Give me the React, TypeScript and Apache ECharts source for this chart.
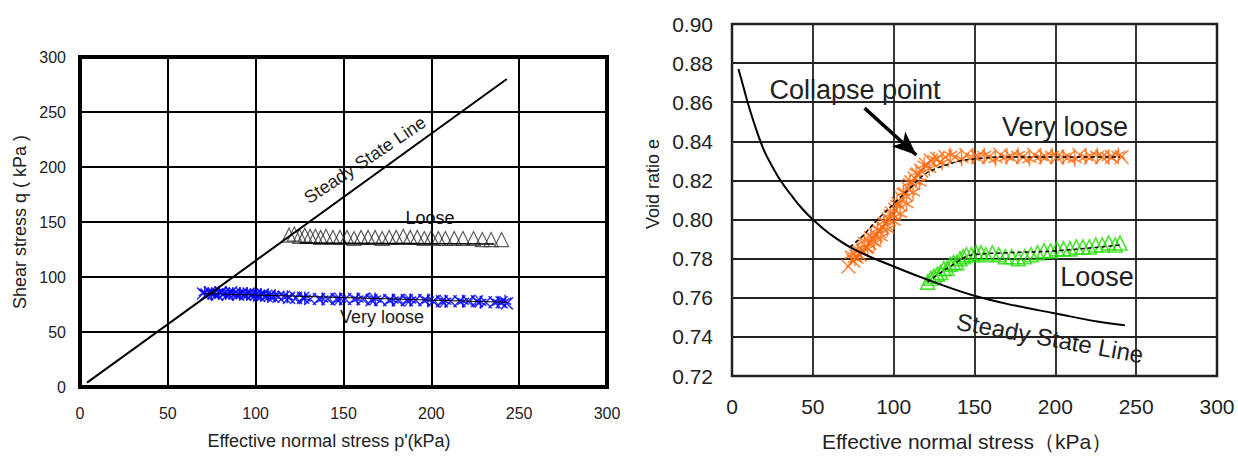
import React, { useEffect, useRef } from "react";
import * as echarts from "echarts";

// ---------- Left chart: q - p' ----------
const leftXTicks = [0, 50, 100, 150, 200, 250, 300];
const leftYTicks = [0, 50, 100, 150, 200, 250, 300];

const leftSslP = [4, 243];
const leftSslQ = [4, 280];

const leftLooseP = [119, 122, 125, 128, 131, 134, 137, 140, 144, 148, 152, 156, 160, 164, 168, 172, 176, 180, 184, 188, 192, 196, 200, 204, 208, 213, 218, 224, 229, 234, 240];
const leftLooseQ = [138, 139, 137, 138, 137, 137, 136, 137, 136, 136, 136, 135, 136, 136, 136, 135, 136, 136, 137, 136, 136, 135, 136, 135, 135, 135, 135, 135, 134, 134, 134];
const leftLooseLineP = [125, 236];
const leftLooseLineQ = [131, 130];

const leftVLCrossP = [70, 72, 74, 76, 78, 80, 82, 84, 86, 88, 90, 92, 94, 96, 98, 100, 102, 104, 106, 108, 110, 113, 116, 119, 123, 127, 131, 136, 141, 146, 151, 156, 161, 166, 171, 176, 181, 186, 191, 196, 201, 206, 211, 216, 221, 226, 231, 236, 240, 243];
const leftVLCrossQ = [85, 84, 86, 85, 84, 86, 85, 84, 86, 85, 84, 85, 84, 85, 84, 84, 83, 84, 83, 83, 82, 82, 82, 81, 81, 81, 80, 80, 80, 80, 80, 80, 80, 79, 79, 79, 79, 79, 79, 79, 78, 78, 78, 78, 78, 78, 77, 77, 77, 76];
const leftVLStarP = [71, 75, 79, 83, 87, 91, 95, 99, 103, 107, 111, 118, 128, 138, 148, 158, 168, 178, 188, 198, 208, 218, 228, 238, 242];
const leftVLStarQ = [86, 85, 86, 85, 85, 85, 85, 84, 84, 83, 83, 82, 81, 80, 80, 80, 80, 79, 79, 79, 78, 78, 77, 77, 78];
const leftVLDiamondP = [125, 145, 165, 185, 205, 225];
const leftVLDiamondQ = [81, 80, 80, 79, 78, 78];
const leftVLLineP = [70, 243];
const leftVLLineQ = [85, 77];

// ---------- Right chart: e - p' ----------
const rightXTicks = [0, 50, 100, 150, 200, 250, 300];
const rightYTicks = [0.72, 0.74, 0.76, 0.78, 0.8, 0.82, 0.84, 0.86, 0.88, 0.9];

const rightSslP = [4, 7, 10, 15, 20, 25, 30, 38, 44, 50, 60, 75, 100, 125, 150, 175, 200, 225, 243];
const rightSslE = [0.877, 0.868, 0.859, 0.846, 0.835, 0.827, 0.82, 0.811, 0.805, 0.8, 0.793, 0.785, 0.776, 0.768, 0.761, 0.756, 0.752, 0.748, 0.746];

const vlCrossP = [72, 75, 77, 79, 81, 83, 85, 87, 89, 91, 93, 95, 97, 99, 101, 103, 105, 107, 109, 111, 113, 115, 117, 120, 123, 127, 132, 138, 145, 152, 159, 166, 173, 180, 187, 194, 201, 208, 215, 222, 229, 235, 241];
const vlCrossE = [0.776, 0.779, 0.781, 0.782, 0.784, 0.786, 0.788, 0.79, 0.792, 0.794, 0.796, 0.798, 0.8, 0.803, 0.805, 0.808, 0.811, 0.813, 0.816, 0.819, 0.821, 0.823, 0.825, 0.828, 0.83, 0.831, 0.832, 0.832, 0.833, 0.832, 0.832, 0.833, 0.832, 0.832, 0.833, 0.832, 0.832, 0.832, 0.833, 0.832, 0.832, 0.832, 0.832];
const vlStarP = [74, 76, 78, 80, 82, 84, 86, 88, 90, 92, 94, 96, 98, 100, 102, 104, 106, 108, 110, 112, 114, 116, 119, 122, 125, 130, 135, 142, 149, 156, 163, 170, 177, 184, 191, 198, 205, 212, 219, 226, 233, 239];
const vlStarE = [0.782, 0.78, 0.785, 0.783, 0.789, 0.785, 0.792, 0.788, 0.795, 0.791, 0.799, 0.795, 0.803, 0.799, 0.808, 0.803, 0.814, 0.808, 0.819, 0.814, 0.824, 0.819, 0.828, 0.826, 0.831, 0.829, 0.833, 0.831, 0.832, 0.833, 0.831, 0.832, 0.833, 0.831, 0.832, 0.833, 0.832, 0.831, 0.832, 0.833, 0.832, 0.833];
const vlTrendP = [73, 80, 90, 100, 110, 119, 126, 133, 141, 150, 170, 200, 240];
const vlTrendE = [0.786, 0.791, 0.8, 0.808, 0.816, 0.823, 0.826, 0.828, 0.83, 0.831, 0.832, 0.832, 0.832];

const looseP = [121, 123, 125, 127, 129, 131, 133, 135, 137, 139, 141, 143, 145, 148, 151, 154, 157, 161, 165, 169, 173, 177, 181, 185, 189, 193, 197, 201, 205, 209, 213, 217, 221, 225, 229, 233, 237, 240];
const looseE = [0.768, 0.77, 0.771, 0.772, 0.773, 0.775, 0.775, 0.777, 0.778, 0.778, 0.78, 0.781, 0.782, 0.782, 0.783, 0.783, 0.782, 0.783, 0.782, 0.781, 0.781, 0.78, 0.781, 0.782, 0.783, 0.784, 0.784, 0.785, 0.785, 0.785, 0.786, 0.786, 0.786, 0.787, 0.787, 0.788, 0.787, 0.788];
const looseTrendP = [121, 135, 150, 170, 200, 240];
const looseTrendE = [0.768, 0.776, 0.782, 0.783, 0.784, 0.787];

const collapseArrowFrom = [82, 0.857];
const collapseArrowTo = [114, 0.833];

const zip = (a: number[], b: number[]) => a.map((v, i) => [v, b[i]]);

const FONT = "'Liberation Sans', Arial, sans-serif";
const TXT = "#222";
const CROSS = "path://M0,0L10,10M10,0L0,10";
const STAR = "path://M5,0L5,10M0,2.5L10,7.5M0,7.5L10,2.5";

export default function App() {
  const ref = useRef<HTMLDivElement>(null);
  useEffect(() => {
    if (!ref.current) return;
    const chart = echarts.init(ref.current, null, { renderer: "svg" });
    const leftAxisCommon = {
      axisLine: { show: true, lineStyle: { color: "#000", width: 4 } },
      axisTick: { show: true, inside: true, length: 4, lineStyle: { color: "#000", width: 2 } },
      splitLine: { show: true, lineStyle: { color: "#000", width: 2 } },
    };
    const rightAxisCommon = {
      axisLine: { show: true, lineStyle: { color: "#222", width: 2 } },
      axisTick: { show: false },
      splitLine: { show: true, lineStyle: { color: "#222", width: 1.8 } },
    };
    const option: any = {
      animation: false,
      backgroundColor: "#fff",
      grid: [
        { left: 80, top: 57, width: 527, height: 330, show: true, borderColor: "#000", borderWidth: 4 },
        { left: 732, top: 24, width: 485, height: 358, show: true, borderColor: "#222", borderWidth: 2.5 },
      ],
      xAxis: [
        {
          gridIndex: 0, type: "value", min: leftXTicks[0], max: leftXTicks[leftXTicks.length - 1], interval: 50,
          ...leftAxisCommon,
          axisLabel: { fontSize: 16, color: TXT, fontFamily: FONT, margin: 18 },
          name: "Effective normal stress p'(kPa)", nameLocation: "middle", nameGap: 45,
          nameTextStyle: { fontSize: 18, color: TXT, fontFamily: FONT, padding: [0, 29, 0, 0] },
        },
        {
          gridIndex: 1, type: "value", min: rightXTicks[0], max: rightXTicks[rightXTicks.length - 1], interval: 50,
          ...rightAxisCommon,
          axisLabel: { fontSize: 21, color: TXT, fontFamily: FONT, margin: 20 },
          name: "Effective normal stress（kPa）", nameLocation: "middle", nameGap: 55,
          nameTextStyle: { fontSize: 21, color: TXT, fontFamily: FONT, padding: [0, 15, 0, 0] },
        },
      ],
      yAxis: [
        {
          gridIndex: 0, type: "value", min: leftYTicks[0], max: leftYTicks[leftYTicks.length - 1], interval: 50,
          ...leftAxisCommon,
          axisLabel: { fontSize: 16, color: TXT, fontFamily: FONT, margin: 14 },
          name: "Shear stress q ( kPa )", nameLocation: "middle", nameGap: 51,
          nameTextStyle: { fontSize: 18, color: TXT, fontFamily: FONT },
        },
        {
          gridIndex: 1, type: "value", min: rightYTicks[0], max: rightYTicks[rightYTicks.length - 1], interval: 0.02,
          ...rightAxisCommon,
          axisLabel: { fontSize: 21, color: TXT, fontFamily: FONT, margin: 19, formatter: (v: number) => v.toFixed(2) },
          name: "Void ratio e", nameLocation: "middle", nameGap: 70,
          nameTextStyle: { fontSize: 18, color: TXT, fontFamily: FONT, padding: [0, 0, 0, 32] },
        },
      ],
      series: [
        // ---- left ----
        {
          type: "line", xAxisIndex: 0, yAxisIndex: 0, data: zip(leftSslP, leftSslQ), showSymbol: false,
          lineStyle: { color: "#000", width: 2 }, z: 5,
        },
        {
          type: "scatter", xAxisIndex: 0, yAxisIndex: 0, data: zip(leftLooseP, leftLooseQ),
          symbol: "triangle", symbolSize: [14, 14],
          itemStyle: { color: "rgba(0,0,0,0)", borderColor: "#333", borderWidth: 1.2 }, z: 3,
        },
        {
          type: "line", xAxisIndex: 0, yAxisIndex: 0, data: zip(leftLooseLineP, leftLooseLineQ), showSymbol: false,
          lineStyle: { color: "#000", width: 1.5 }, z: 4,
        },
        {
          type: "scatter", xAxisIndex: 0, yAxisIndex: 0, data: zip(leftVLCrossP, leftVLCrossQ),
          symbol: CROSS, symbolSize: [12, 12],
          itemStyle: { color: "#0000ff", borderColor: "#0000ff", borderWidth: 1.6 }, z: 3,
        },
        {
          type: "scatter", xAxisIndex: 0, yAxisIndex: 0, data: zip(leftVLStarP, leftVLStarQ),
          symbol: STAR, symbolSize: [12, 13],
          itemStyle: { color: "#0000ff", borderColor: "#0000ff", borderWidth: 1.6 }, z: 3,
        },
        {
          type: "scatter", xAxisIndex: 0, yAxisIndex: 0, data: zip(leftVLDiamondP, leftVLDiamondQ),
          symbol: "diamond", symbolSize: [10, 12],
          itemStyle: { color: "rgba(0,0,0,0)", borderColor: "#0000ff", borderWidth: 1.2 }, z: 3,
        },
        {
          type: "line", xAxisIndex: 0, yAxisIndex: 0, data: zip(leftVLLineP, leftVLLineQ), showSymbol: false,
          lineStyle: { color: "#000", width: 1 }, z: 4,
        },
        // ---- right ----
        {
          type: "line", xAxisIndex: 1, yAxisIndex: 1, data: zip(rightSslP, rightSslE), showSymbol: false, smooth: 0.4,
          lineStyle: { color: "#000", width: 2 }, z: 5,
        },
        {
          type: "scatter", xAxisIndex: 1, yAxisIndex: 1, data: zip(vlCrossP, vlCrossE),
          symbol: CROSS, symbolSize: [14, 14],
          itemStyle: { color: "#ff6a10", borderColor: "#ff6a10", borderWidth: 1.6 }, z: 3,
        },
        {
          type: "scatter", xAxisIndex: 1, yAxisIndex: 1, data: zip(vlStarP, vlStarE),
          symbol: STAR, symbolSize: [14, 15],
          itemStyle: { color: "#ff6a10", borderColor: "#ff6a10", borderWidth: 1.6 }, z: 3,
        },
        {
          type: "line", xAxisIndex: 1, yAxisIndex: 1, data: zip(vlTrendP, vlTrendE), showSymbol: false, smooth: true,
          lineStyle: { color: "#000", width: 1.5, type: [4, 3] }, z: 4,
          markLine: {
            silent: true, symbol: ["none", "arrow"], symbolSize: [15, 24],
            lineStyle: { color: "#000", width: 3.5, type: "solid" }, label: { show: false },
            data: [[{ coord: collapseArrowFrom }, { coord: collapseArrowTo }]],
          },
        },
        {
          type: "scatter", xAxisIndex: 1, yAxisIndex: 1, data: zip(looseP, looseE),
          symbol: "triangle", symbolSize: [14, 14],
          itemStyle: { color: "rgba(0,0,0,0)", borderColor: "#22dd00", borderWidth: 1.6 }, z: 3,
        },
        {
          type: "line", xAxisIndex: 1, yAxisIndex: 1, data: zip(looseTrendP, looseTrendE), showSymbol: false, smooth: true,
          lineStyle: { color: "#000", width: 1.5, type: [4, 3] }, z: 4,
        },
      ],
      graphic: [
        { type: "text", x: 365, y: 160, rotation: 0.59, style: { text: "Steady State Line", font: `18px ${FONT}`, fill: TXT, align: "center", verticalAlign: "middle" } },
        { type: "text", x: 430, y: 218, style: { text: "Loose", font: `18px ${FONT}`, fill: "#111", align: "center", verticalAlign: "middle" } },
        { type: "text", x: 382, y: 317, style: { text: "Very loose", font: `18px ${FONT}`, fill: TXT, align: "center", verticalAlign: "middle" } },
        { type: "text", x: 855, y: 90, style: { text: "Collapse point", font: `27px ${FONT}`, fill: TXT, align: "center", verticalAlign: "middle" } },
        { type: "text", x: 1065, y: 127, style: { text: "Very loose", font: `27px ${FONT}`, fill: TXT, align: "center", verticalAlign: "middle" } },
        { type: "text", x: 1097, y: 277, style: { text: "Loose", font: `27px ${FONT}`, fill: TXT, align: "center", verticalAlign: "middle" } },
        { type: "text", x: 1050, y: 338, rotation: -0.18, style: { text: "Steady State Line", font: `24px ${FONT}`, fill: TXT, align: "center", verticalAlign: "middle" } },
      ],
    };
    chart.setOption(option);
    return () => chart.dispose();
  }, []);
  return (
    <div
      ref={ref}
      style={{ position: "fixed", left: 0, top: 0, width: 1238, height: 457, background: "#fff" }}
    />
  );
}
